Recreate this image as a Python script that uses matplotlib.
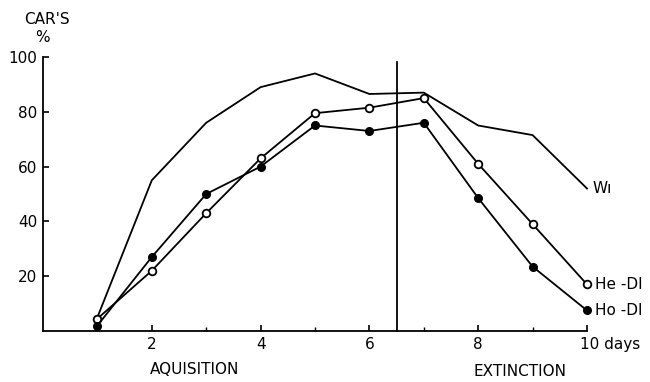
import matplotlib
matplotlib.use('Agg')
import matplotlib.pyplot as plt
import matplotlib.transforms as mtransforms

# ====== Data ======
days = [1, 2, 3, 4, 5, 6, 7, 8, 9, 10]
w1 = [5, 55, 76, 89, 94, 86.5, 87, 75, 71.5, 52]
he_di = [4.5, 22, 43, 63, 79.5, 81.5, 85, 61, 39, 17]
ho_di = [2, 27, 50, 60, 75, 73, 76, 48.5, 23.5, 7.5]
yticks = [20, 40, 60, 80, 100]
xticks = [2, 4, 6, 8, 10]
xlabels = ['2', '4', '6', '8', '10 days']
split_day = 6.5

plt.rcParams['font.family'] = ['DejaVu Sans']
fig = plt.figure(figsize=(6.5, 3.82), dpi=100)
ax = fig.add_axes([43/650, 1 - 331/382, (587 - 43)/650, (331 - 57)/382])

ax.plot(days, w1, color='black', lw=1.3, clip_on=False)
ax.plot(days, he_di, color='black', lw=1.3, marker='o', ms=5.5,
        mfc='white', mec='black', mew=1.3, clip_on=False)
ax.plot(days, ho_di, color='black', lw=1.3, marker='o', ms=5.5,
        mfc='black', mec='black', clip_on=False)

ax.plot([split_day, split_day], [0, 98], color='black', lw=1.3, clip_on=False)

ax.set_xlim(0, 10)
ax.set_ylim(0, 100)
ax.spines['top'].set_visible(False)
ax.spines['right'].set_visible(False)
for s in ['left', 'bottom']:
    ax.spines[s].set_linewidth(1.3)

ax.set_xticks(xticks)
ax.set_xticklabels(xlabels, fontsize=11)
ax.set_xticks([1, 3, 5, 7, 9], minor=True)
ax.set_yticks(yticks)
ax.set_yticklabels([str(v) for v in yticks], fontsize=11)
ax.tick_params(direction='in', length=4, width=1.2, pad=4)
ax.tick_params(which='minor', direction='in', length=3, width=1.0)

# "10 days" starts just left of its tick
last = ax.get_xticklabels()[-1]
last.set_horizontalalignment('left')
last.set_transform(last.get_transform() +
                   mtransforms.ScaledTranslation(-7/100, 0, fig.dpi_scale_trans))

ax.text(10.1, 52, 'W\u0131', fontsize=11, va='center', ha='left')
ax.text(10.15, 17, 'He -DI', fontsize=11, va='center', ha='left')
ax.text(10.15, 7.5, 'Ho -DI', fontsize=11, va='center', ha='left')

fig.text(195/650, 1 - 370/382, 'AQUISITION', fontsize=11, ha='center', va='center')
fig.text(520/650, 1 - 372/382, 'EXTINCTION', fontsize=11, ha='center', va='center')
fig.text(47/650, 1 - 19/382, "CAR'S", fontsize=11, ha='center', va='center')
fig.text(42/650, 1 - 38/382, '%', fontsize=11, ha='center', va='center')

fig.savefig('out.png', dpi=100)
